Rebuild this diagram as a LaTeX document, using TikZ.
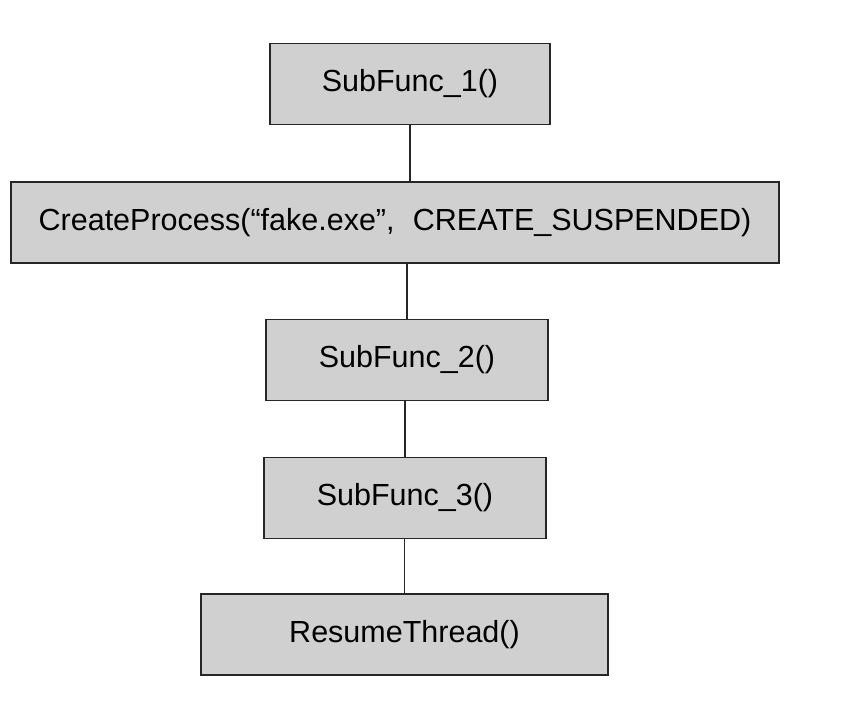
\documentclass[tikz,border=0pt]{standalone}
\usepackage{fontspec}
\setmainfont{Liberation Sans}
\usepackage{xcolor}
\usepackage{tikz}
\definecolor{boxgray}{RGB}{208,208,208}

\begin{document}
\begin{tikzpicture}[x=1pt,y=-1pt,
    funcbox/.style={draw=black!85,line width=1.8pt,fill=boxgray,inner sep=0pt,
      minimum height=81,font=\fontsize{30.5}{34}\selectfont}]
  \useasboundingbox (0,0) rectangle (862,701);
  \node[funcbox,minimum width=280] (sub1) at (410,84) {SubFunc\_1()};
  \node[funcbox,minimum width=768] (create) at (395,222.5) {CreateProcess(“fake.exe”,\hspace{0.6em}CREATE\_SUSPENDED)};
  \node[funcbox,minimum width=282] (sub2) at (407,360) {SubFunc\_2()};
  \node[funcbox,minimum width=282] (sub3) at (405,498) {SubFunc\_3()};
  \node[funcbox,minimum width=407] (resume) at (404.5,634.5) {ResumeThread()};
  \path[draw=black!85,line width=1.8pt]
    (sub1.south) -- (sub1.south |- create.north)
    (sub2.north |- create.south) -- (sub2.north)
    (sub3.north |- sub2.south) -- (sub3.north)
    (resume.north |- sub3.south) -- (resume.north);
\end{tikzpicture}
\end{document}
